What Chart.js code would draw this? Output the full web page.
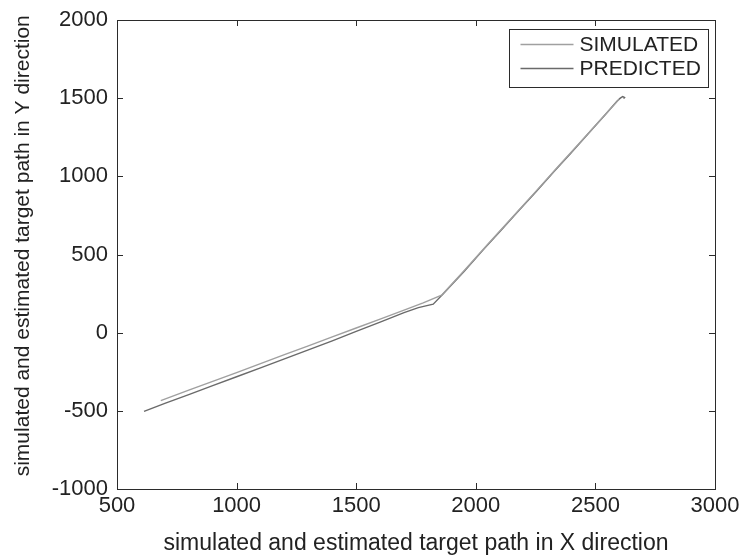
<!DOCTYPE html>
<html>
<head>
<meta charset="utf-8">
<script src="https://cdn.jsdelivr.net/npm/chart.js@4.4.0/dist/chart.umd.min.js"></script>
<style>
  html, body { margin:0; padding:0; background:#fff; }
  #wrap { width:746px; height:560px; position:relative; }
</style>
</head>
<body>
<div id="wrap"><canvas id="c" width="746" height="560"></canvas></div>
<script>
// target path (x, y in the same units)
const simX = [683, 800, 900, 1000, 1100, 1200, 1300, 1400, 1500, 1600, 1700, 1780, 1857, 1950, 2050, 2150, 2250, 2350, 2450, 2530, 2600];
const simY = [-435, -368, -312, -255, -198, -141, -84, -27, 30, 87, 144, 190, 240, 395, 565, 733, 902, 1072, 1240, 1376, 1494];

const predX = [613, 700, 800, 900, 1000, 1100, 1200, 1300, 1400, 1500, 1600, 1700, 1760, 1800, 1822, 1866, 1950, 2030, 2100, 2180, 2250, 2330, 2400, 2480, 2540, 2590, 2604, 2614, 2622, 2618];
const predY = [-503, -452, -396, -339, -282, -225, -168, -110, -52, 8, 68, 128, 160, 175, 182, 252, 390, 528, 645, 782, 898, 1036, 1152, 1290, 1392, 1480, 1500, 1510, 1504, 1497];

const xTicks = [500, 1000, 1500, 2000, 2500, 3000];
const yTicks = [-1000, -500, 0, 500, 1000, 1500, 2000];
const seriesNames = ['SIMULATED', 'PREDICTED'];
const seriesColors = ['#a0a0a0', '#6a6a6a'];

const FONT = 'Arial, "Liberation Sans", Helvetica, sans-serif';

function toPoints(xs, ys){ return xs.map((x, i) => ({x: x, y: ys[i]})); }

// MATLAB style box, inward ticks and legend
const boxPlugin = {
  id: 'box',
  afterDraw(chart){
    const {ctx, chartArea: a, scales: {x, y}} = chart;
    ctx.save();
    ctx.strokeStyle = '#2b2b2b';
    ctx.lineWidth = 1;
    ctx.strokeRect(Math.round(a.left) + 0.5, Math.round(a.top) + 0.5, Math.round(a.right - a.left), Math.round(a.bottom - a.top));
    const tl = 6;
    ctx.beginPath();
    xTicks.forEach(v => {
      const px = Math.round(x.getPixelForValue(v)) + 0.5;
      ctx.moveTo(px, a.bottom); ctx.lineTo(px, a.bottom - tl);
      ctx.moveTo(px, a.top); ctx.lineTo(px, a.top + tl);
    });
    yTicks.forEach(v => {
      const py = Math.round(y.getPixelForValue(v)) + 0.5;
      ctx.moveTo(a.left, py); ctx.lineTo(a.left + tl, py);
      ctx.moveTo(a.right, py); ctx.lineTo(a.right - tl, py);
    });
    ctx.stroke();

    // legend
    const lx = 509.5, ly = 29.5, lw = 199, lh = 58;
    ctx.fillStyle = '#fff';
    ctx.fillRect(lx, ly, lw, lh);
    ctx.strokeStyle = '#2b2b2b';
    ctx.strokeRect(lx, ly, lw, lh);
    ctx.font = '21px ' + FONT;
    ctx.textBaseline = 'middle';
    ctx.textAlign = 'left';
    chart.data.datasets.forEach((ds, i) => {
      const yy = ly + 15 + i * 24;
      ctx.strokeStyle = ds.borderColor;
      ctx.lineWidth = 1.3;
      ctx.beginPath();
      ctx.moveTo(lx + 11, yy); ctx.lineTo(lx + 64, yy);
      ctx.stroke();
      ctx.fillStyle = '#222';
      ctx.fillText(ds.label, lx + 70, yy + 1);
    });
    ctx.restore();
  }
};

new Chart(document.getElementById('c'), {
  type: 'scatter',
  data: {
    datasets: [
      { label: seriesNames[0], data: toPoints(simX, simY), borderColor: seriesColors[0], showLine: true, pointRadius: 0, borderWidth: 1.4, tension: 0, fill: false },
      { label: seriesNames[1], data: toPoints(predX, predY), borderColor: seriesColors[1], showLine: true, pointRadius: 0, borderWidth: 1.4, tension: 0, fill: false }
    ]
  },
  options: {
    responsive: false,
    animation: false,
    devicePixelRatio: 1,
    layout: { padding: { top: 20, right: 31, left: 0, bottom: 0 } },
    plugins: { legend: { display: false }, tooltip: { enabled: false } },
    scales: {
      x: {
        type: 'linear', min: 500, max: 3000,
        afterBuildTicks: s => { s.ticks = xTicks.map(v => ({value: v})); },
        afterFit: s => { s.height = 71; s.paddingLeft = 0; s.paddingRight = 0; },
        grid: { display: false, drawTicks: false },
        border: { display: false },
        ticks: { color: '#222', font: { family: FONT, size: 22 }, padding: 4, maxRotation: 0, autoSkip: false, callback: v => String(v) },
        title: { display: true, text: 'simulated and estimated target path in X direction', color: '#222', font: { family: FONT, size: 23 }, padding: { top: 0, bottom: 3 } }
      },
      y: {
        type: 'linear', min: -1000, max: 2000,
        afterBuildTicks: s => { s.ticks = yTicks.map(v => ({value: v})); },
        afterFit: s => { s.width = 117; s.paddingTop = 0; s.paddingBottom = 0; },
        grid: { display: false, drawTicks: false },
        border: { display: false },
        ticks: { color: '#222', font: { family: FONT, size: 22 }, padding: 9, autoSkip: false, callback: v => String(v) },
        title: { display: true, text: '   simulated and estimated target path in Y direction', color: '#222', font: { family: FONT, size: 21 }, padding: { top: 11, bottom: 0 } }
      }
    }
  },
  plugins: [boxPlugin]
});
</script>
</body>
</html>
